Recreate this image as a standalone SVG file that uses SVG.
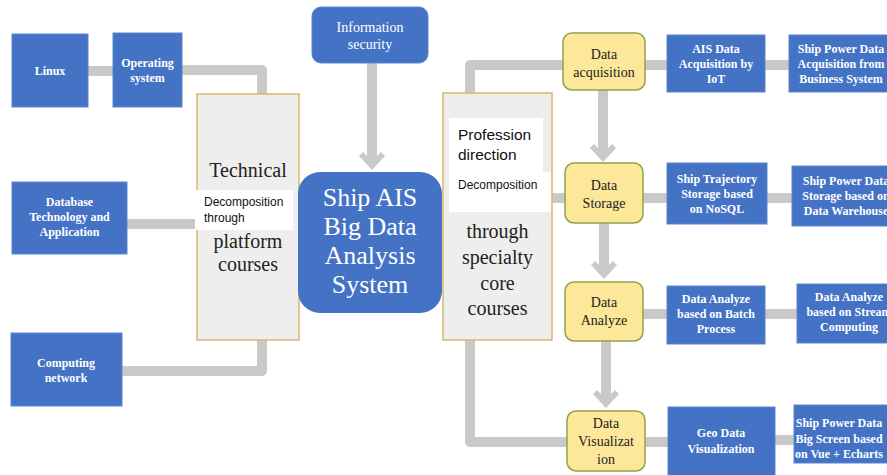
<svg xmlns="http://www.w3.org/2000/svg" width="887" height="475" viewBox="0 0 887 475">
<style>
.bg{fill:#ffffff}
.con{fill:none;stroke:#c9c9c9;stroke-width:10;stroke-linejoin:round}
.blue{fill:#4472c4;stroke:#5b86d0;stroke-width:1}
.yel{fill:#fde89a;stroke:#8fa34f;stroke-width:1.5}
.tall{fill:#eeeeee;stroke:#d9b86c;stroke-width:1.5}
.ov{fill:#ffffff}
.serif{font-family:'Liberation Serif','Times New Roman','DejaVu Serif',serif}
.bt{font-weight:bold;font-size:12px;fill:#ffffff;text-anchor:middle}
.yt{font-size:14px;fill:#222222;text-anchor:middle}
.tt{font-size:20px;fill:#222222;text-anchor:middle}
.ct{font-size:26px;fill:#ffffff;text-anchor:middle}
.it{font-size:14px;fill:#ffffff;text-anchor:middle}
.st{font-family:'Liberation Sans',sans-serif;font-size:12px;fill:#111111}
.pt{font-family:'Liberation Sans',sans-serif;font-size:15.5px;fill:#111111}
</style>
<defs>
<marker id="chev" markerUnits="userSpaceOnUse" viewBox="0 0 24 28" markerWidth="24" markerHeight="28" refX="13" refY="14" orient="auto">
<polygon points="22,14 8,1 4,5 13,14 4,23 8,27" fill="#c9c9c9"/>
</marker>
</defs>
<rect class="bg" x="0" y="0" width="887" height="475"/>
<g id="connectors">
<path class="con" d="M88,71 H113"/>
<path class="con" d="M182,70 H262 V94"/>
<path class="con" d="M127,224 H197"/>
<path class="con" d="M262,340 V371 H122"/>
<path class="con" d="M372,63 V161" marker-end="url(#chev)"/>
<path class="con" d="M470,93 V65 H563"/>
<path class="con" d="M645,65 H667"/>
<path class="con" d="M765,65 H789"/>
<path class="con" d="M552,198 H565"/>
<path class="con" d="M643,198 H667"/>
<path class="con" d="M767,198 H792"/>
<path class="con" d="M643,314 H667"/>
<path class="con" d="M765,314 H797"/>
<path class="con" d="M470,340 V442 H567"/>
<path class="con" d="M645,442 H668"/>
<path class="con" d="M775,440 H794"/>
<path class="con" d="M603,90 V153" marker-end="url(#chev)"/>
<path class="con" d="M604,223 V270" marker-end="url(#chev)"/>
<path class="con" d="M606,341 V399" marker-end="url(#chev)"/>
</g>
<g id="linux" class="serif">
<rect class="blue" x="12" y="34" width="76" height="73"/>
<text class="bt" x="50" y="75">Linux</text>
</g>
<g id="operating-system" class="serif">
<rect class="blue" x="113" y="33" width="69" height="74"/>
<text class="bt" x="147.5" y="67">Operating</text>
<text class="bt" x="147.5" y="82">system</text>
</g>
<g id="database" class="serif">
<rect class="blue" x="12" y="182" width="115" height="72"/>
<text class="bt" x="69.5" y="206">Database</text>
<text class="bt" x="69.5" y="221">Technology and</text>
<text class="bt" x="69.5" y="236">Application</text>
</g>
<g id="computing-network" class="serif">
<rect class="blue" x="11" y="333" width="111" height="73"/>
<text class="bt" x="66" y="367">Computing</text>
<text class="bt" x="66" y="382">network</text>
</g>
<g id="information-security" class="serif">
<rect class="blue" x="312" y="7" width="116" height="56" rx="9"/>
<text class="it" x="370" y="32">Information</text>
<text class="it" x="370" y="49">security</text>
</g>
<g id="technical-platform" class="serif">
<rect class="tall" x="197" y="94" width="102" height="246"/>
<text class="tt" x="248" y="177">Technical</text>
<text class="tt" x="248" y="248">platform</text>
<text class="tt" x="248" y="271">courses</text>
<rect class="ov" x="195" y="190" width="98" height="40"/>
<text class="st" x="204" y="206">Decomposition</text>
<text class="st" x="204" y="222">through</text>
</g>
<g id="ship-ais" class="serif">
<rect fill="#4472c4" x="298" y="172" width="144" height="141" rx="22"/>
<text class="ct" x="370" y="206">Ship AIS</text>
<text class="ct" x="370" y="235">Big Data</text>
<text class="ct" x="370" y="264">Analysis</text>
<text class="ct" x="370" y="293">System</text>
</g>
<g id="profession-direction" class="serif">
<rect class="tall" x="443" y="93" width="109" height="247"/>
<text class="tt" x="497.5" y="238">through</text>
<text class="tt" x="497.5" y="264">specialty</text>
<text class="tt" x="497.5" y="290">core</text>
<text class="tt" x="497.5" y="315">courses</text>
<rect class="ov" x="449" y="118" width="94" height="54"/>
<text class="pt" x="458" y="140">Profession</text>
<text class="pt" x="458" y="160">direction</text>
<rect class="ov" x="449" y="172" width="102" height="40"/>
<text class="st" x="458" y="189">Decomposition</text>
</g>
<g id="data-acquisition" class="serif">
<rect class="yel" x="563" y="33" width="82" height="57" rx="9"/>
<text class="yt" x="604" y="59">Data</text>
<text class="yt" x="604" y="77">acquisition</text>
</g>
<g id="ais-iot" class="serif">
<rect class="blue" x="667" y="35" width="98" height="57"/>
<text class="bt" x="716" y="53">AIS Data</text>
<text class="bt" x="716" y="68">Acquisition by</text>
<text class="bt" x="716" y="83">IoT</text>
</g>
<g id="power-acquisition" class="serif">
<rect class="blue" x="789" y="35" width="110" height="57"/>
<text class="bt" x="841" y="53">Ship Power Data</text>
<text class="bt" x="841" y="68">Acquisition from</text>
<text class="bt" x="841" y="83">Business System</text>
</g>
<g id="data-storage" class="serif">
<rect class="yel" x="565" y="163" width="78" height="60" rx="9"/>
<text class="yt" x="604" y="190">Data</text>
<text class="yt" x="604" y="208">Storage</text>
</g>
<g id="trajectory-storage" class="serif">
<rect class="blue" x="667" y="163" width="100" height="61"/>
<text class="bt" x="717" y="183">Ship Trajectory</text>
<text class="bt" x="717" y="198">Storage based</text>
<text class="bt" x="717" y="213">on NoSQL</text>
</g>
<g id="power-storage" class="serif">
<rect class="blue" x="792" y="166" width="110" height="60"/>
<text class="bt" x="846" y="185">Ship Power Data</text>
<text class="bt" x="846" y="200">Storage based on</text>
<text class="bt" x="846" y="215">Data Warehouse</text>
</g>
<g id="data-analyze" class="serif">
<rect class="yel" x="565" y="282" width="78" height="59" rx="9"/>
<text class="yt" x="604" y="307">Data</text>
<text class="yt" x="604" y="325">Analyze</text>
</g>
<g id="batch-process" class="serif">
<rect class="blue" x="667" y="286" width="98" height="58"/>
<text class="bt" x="716" y="303">Data Analyze</text>
<text class="bt" x="716" y="318">based on Batch</text>
<text class="bt" x="716" y="333">Process</text>
</g>
<g id="stream-computing" class="serif">
<rect class="blue" x="797" y="284" width="110" height="59"/>
<text class="bt" x="849" y="301">Data Analyze</text>
<text class="bt" x="849" y="316">based on Stream</text>
<text class="bt" x="849" y="331">Computing</text>
</g>
<g id="data-visualization" class="serif">
<rect class="yel" x="567" y="411" width="78" height="60" rx="9"/>
<text class="yt" x="606" y="428">Data</text>
<text class="yt" x="606" y="446">Visualizat</text>
<text class="yt" x="606" y="464">ion</text>
</g>
<g id="geo-visualization" class="serif">
<rect class="blue" x="668" y="407" width="107" height="70"/>
<text class="bt" x="721" y="437">Geo Data</text>
<text class="bt" x="721" y="453">Visualization</text>
</g>
<g id="big-screen" class="serif">
<rect class="blue" x="794" y="405" width="110" height="58"/>
<text class="bt" x="839" y="427">Ship Power Data</text>
<text class="bt" x="839" y="443">Big Screen based</text>
<text class="bt" x="839" y="458">on Vue + Echarts</text>
</g>
</svg>
